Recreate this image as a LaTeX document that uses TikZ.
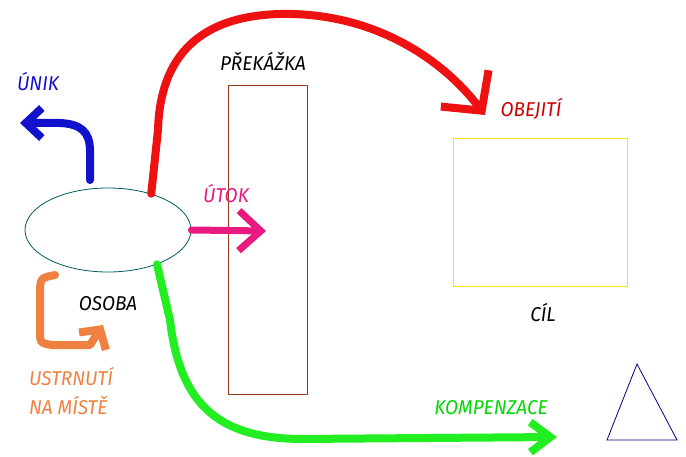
\documentclass[tikz,border=0pt]{standalone}
\usepackage{fontspec}
\newfontfamily\hand{Fira Sans}
\usetikzlibrary{shapes.geometric,arrows.meta}
\definecolor{pen red}{HTML}{EE1111}
\definecolor{pen blue}{HTML}{1212CC}
\definecolor{pen pink}{HTML}{E8197F}
\definecolor{pen green}{HTML}{22EE22}
\definecolor{pen orange}{HTML}{F08040}
\begin{document}
\begin{tikzpicture}[x=1pt,y=1pt,
    pen/.style={line width=8pt,line cap=round,line join=round},
    lbl/.style={font=\hand\itshape\fontsize{20}{20}\selectfont,inner sep=0pt,xscale=0.95}]
    \useasboundingbox (0,0) rectangle (686,456);

    \node[ellipse,draw=teal!70!black,line width=0.8pt,minimum width=166,minimum height=84] (osoba) at (108,226) {};
    \node[draw=brown!60!red!70!black,line width=0.8pt,minimum width=79,minimum height=309] (prekazka) at (267.5,216.5) {};
    \node[draw=yellow!85!orange,line width=0.8pt,minimum width=174,minimum height=148] (cil) at (540,244) {};
    \draw[blue!50!black,line width=0.8pt] (637,92) -- (607,16) -- (677,16) -- cycle;

    \node[lbl] (t0) at (263,395) {PŘEKÁŽKA};
    \node[lbl] (t1) at (108,152) {OSOBA};
    \node[lbl] (t2) at (543,143) {CÍL};
    \node[lbl,pen blue] (t3) at (38,374) {ÚNIK};
    \node[lbl,red!80!black] (t4) at (531,347) {OBEJITÍ};
    \node[lbl,pen pink] (t5) at (226,262) {ÚTOK};
    \node[lbl,green!85!black] (t6) at (491,48) {KOMPENZACE};
    \node[lbl,pen orange,align=left] (t7) at (71,65) {USTRNUTÍ\\[9pt]NA MÍSTĚ};

    \coordinate (u) at (90,276);
    \coordinate (o) at (55,181);
    \draw[pen,pen blue,-{Straight Barb[length=16pt,width=30pt]}] (u) -- (90,305) .. controls (90,325) and (80,332) .. (60,333) -- (20,333);
    \draw[pen,pen red,-{Straight Barb[length=28pt,width=60pt]}] (osoba.40) -- (158,326)
        .. controls (160,400) and (200,440) .. (280,442)
        .. controls (370,444) and (440,400) .. (485,341);
    \draw[pen,pen pink,line width=7pt,-{Straight Barb[length=22pt,width=40pt]}] (osoba.east) -- (266,225);
    \draw[pen,pen green,-{Straight Barb[length=20pt,width=30pt]}] (osoba.-35) -- (170,136)
        .. controls (180,50) and (220,18) .. (300,17) -- (557,19);
    \draw[pen,pen orange,-{Straight Barb[length=14pt,width=32pt]}] (o) .. controls (40,178) .. (40,160) -- (40,126)
        .. controls (40,113) .. (52,111) -- (90,111) -- (103,131);
\end{tikzpicture}
\end{document}
